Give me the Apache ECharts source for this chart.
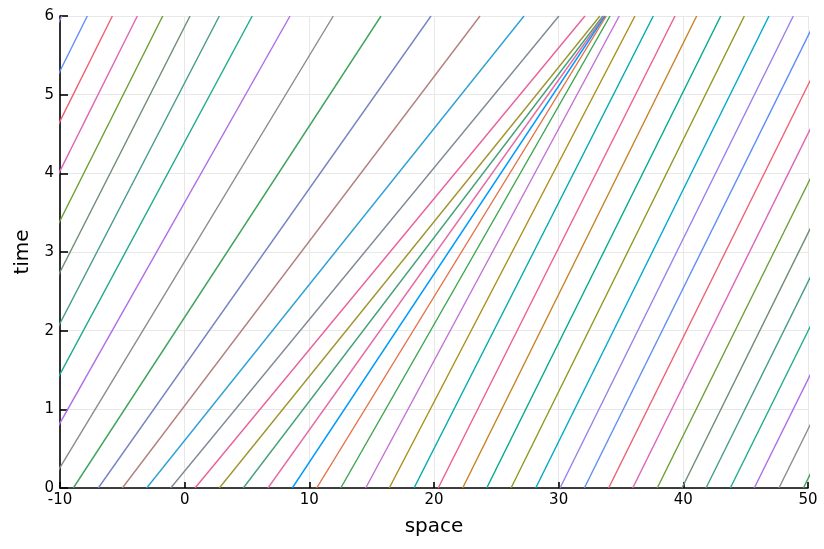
<!DOCTYPE html>
<html>
<head>
<meta charset="utf-8">
<script src="https://cdn.jsdelivr.net/npm/echarts@6/dist/echarts.min.js"></script>
<style>
html,body{margin:0;padding:0;background:#fff;}
#chart{width:824px;height:549px;}
</style>
</head>
<body>
<div id="chart"></div>
<script>
// Characteristic lines: position at time 0 and at time 6
var startX = [-28.55, -26.6, -24.65, -22.7, -20.75, -18.8, -16.85, -14.9, -12.95, -11.0,
  -8.93, -6.93, -5.00, -3.05, -1.12, 0.83, 2.78, 4.70, 6.68, 8.63, 10.59, 12.52, 14.52,
  16.41, 18.40, 20.34, 22.30, 24.23, 26.18, 28.16, 30.11, 32.06, 34.01, 35.94, 37.91,
  39.89, 41.82, 43.77, 45.69, 47.67, 49.63];
var endX = [-9.86, -7.81, -5.80, -3.80, -1.76, 0.43, 2.78, 5.42, 8.45, 11.92,
  15.75, 19.76, 23.69, 27.22, 30.02, 32.11, 33.31, 33.55, 33.65, 33.72, 33.82, 34.12, 34.86,
  36.12, 37.59, 39.33, 41.07, 43.00, 44.89, 46.87, 48.82, 50.79, 52.74, 54.67, 56.64,
  58.62, 60.55, 62.50, 64.42, 66.40, 68.36];
var startT = 0;
var endT = 6;
var xTicks = [-10, 0, 10, 20, 30, 40, 50];
var yTicks = [0, 1, 2, 3, 4, 5, 6];
var palette = ['#009AFA','#E36F47','#3EA44E','#C371D2','#AC8E18','#00AAAE','#ED5E93',
  '#C68225','#00A98D','#8E971E','#00A8CB','#9B7FE9','#618DF6','#F05F73','#DD65B6',
  '#6C9E33','#6E8C73','#469B8C','#1EAA8C','#B06DE6','#8B8B8B','#3FA35D','#7784C0',
  '#B2807F','#2E9FD4','#7F8996','#E8609A','#9F942E','#44A078','#E46AA5'];
var paletteOffset = 11;

var series = startX.map(function (x0, i) {
  return {
    type: 'line',
    data: [[x0, startT], [endX[i], endT]],
    showSymbol: false,
    symbol: 'none',
    clip: true,
    animation: false,
    silent: true,
    lineStyle: { width: 1.4, color: palette[(i + paletteOffset) % palette.length] },
    z: 2
  };
});

var chart = echarts.init(document.getElementById('chart'), null, { renderer: 'canvas' });
chart.setOption({
  animation: false,
  backgroundColor: '#ffffff',
  grid: { left: 60, right: 16, top: 16, bottom: 61, containLabel: false },
  xAxis: {
    type: 'value',
    min: xTicks[0], max: xTicks[xTicks.length - 1], interval: 10,
    name: 'space', nameLocation: 'middle', nameGap: 29,
    nameTextStyle: { fontFamily: 'DejaVu Sans', fontSize: 20, color: '#000' },
    axisLine: { show: true, onZero: false, lineStyle: { color: '#000', width: 1.6 } },
    axisTick: { show: true, inside: true, length: 6, lineStyle: { color: '#000', width: 1.6 } },
    axisLabel: { fontFamily: 'DejaVu Sans', fontSize: 15, color: '#000', margin: 5 },
    splitLine: { show: true, lineStyle: { color: '#e8e8e8', width: 1 } }
  },
  yAxis: {
    type: 'value',
    min: yTicks[0], max: yTicks[yTicks.length - 1], interval: 1,
    name: 'time', nameLocation: 'middle', nameGap: 27,
    nameTextStyle: { fontFamily: 'DejaVu Sans', fontSize: 20, color: '#000' },
    axisLine: { show: true, onZero: false, lineStyle: { color: '#000', width: 1.6 } },
    axisTick: { show: true, inside: true, length: 8, lineStyle: { color: '#000', width: 1.6 } },
    axisLabel: { fontFamily: 'DejaVu Sans', fontSize: 15, color: '#000', margin: 6 },
    splitLine: { show: true, lineStyle: { color: '#e8e8e8', width: 1 } }
  },
  series: series
});
</script>
</body>
</html>
